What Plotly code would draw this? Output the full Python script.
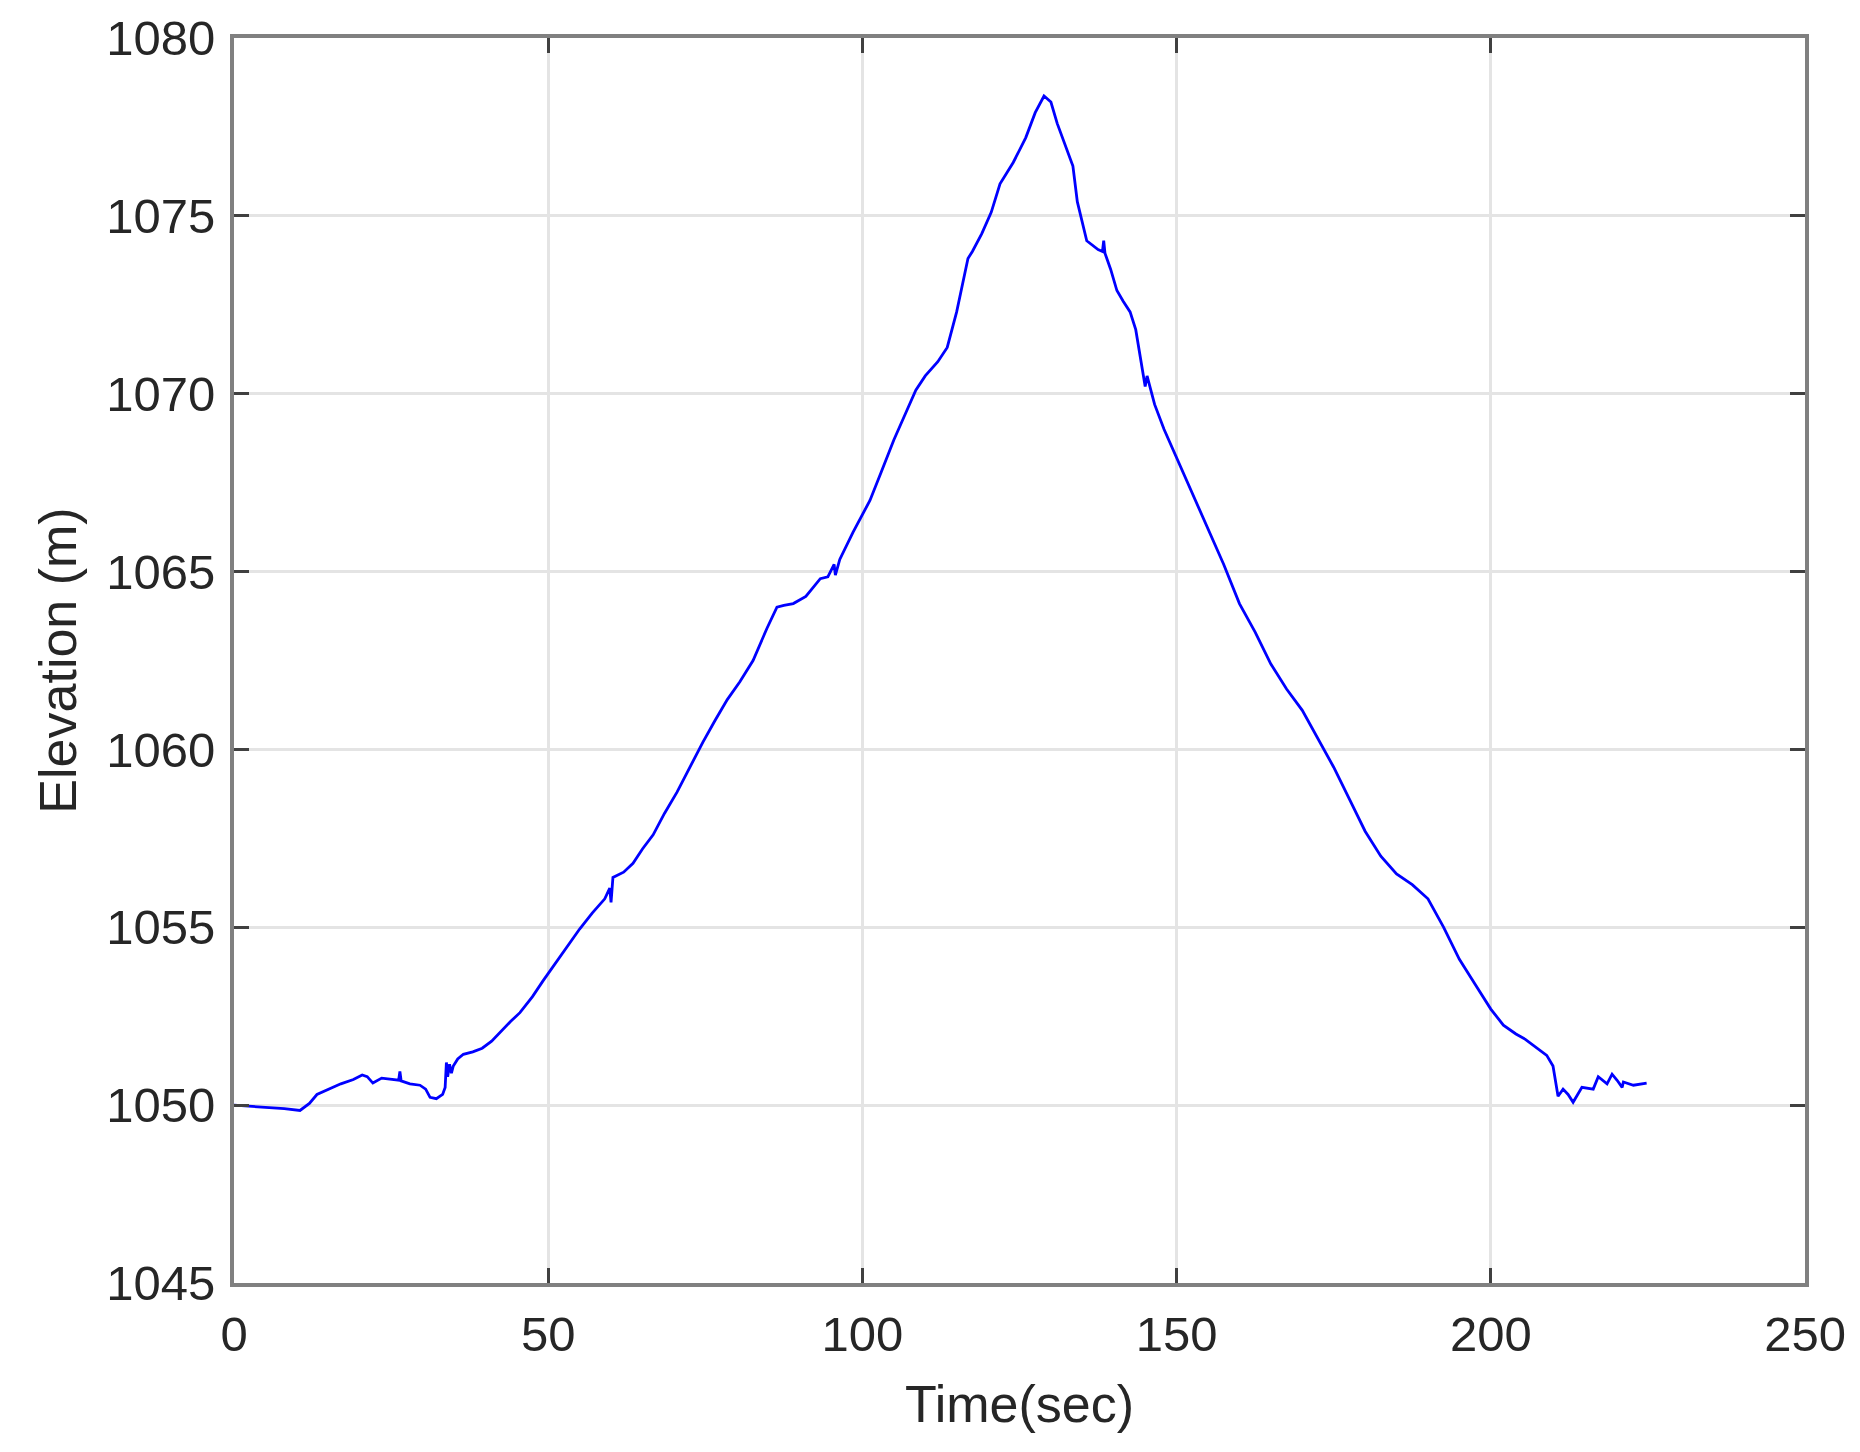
import plotly.graph_objects as go

time_sec = [0, 3, 6, 8, 10.5, 12, 13.2, 15, 17, 19, 20.4, 21.2, 22.1, 23.5, 25, 26.2, 26.4, 26.6, 28, 29.6,
            30.5, 31.2, 32.2, 33.2, 33.6, 33.8, 34.0, 34.3, 34.6, 34.9, 35.6, 36.5, 38, 39.5, 41, 42.3, 44,
            45.5, 47.5, 49.2, 51, 53, 55, 57, 59, 59.8, 60.0, 60.3, 62, 63.5, 65, 66.7, 68.5, 70.5, 72.5,
            74.6, 76.5, 78.5, 80.5, 82.6, 84.8, 86.4, 87.5, 89, 91, 93.3, 94.5, 95.5, 95.7, 96.4, 98.5,
            100, 101.2, 103, 105, 107, 108.5, 110, 112, 113.5, 115, 116.8, 117.5, 119, 120.5, 121.9, 124,
            126, 127.5, 128.9, 130, 131, 132.5, 133.5, 134.2, 135, 135.7, 137.5, 138.2, 138.4, 138.6, 139.5,
            140.5, 141.5, 142.6, 143.5, 144.2, 145, 145.3, 146.5, 148, 150, 152.5, 155, 157.5, 160, 162.5,
            165, 167.5, 170, 172.5, 175, 177.5, 180, 182.5, 185, 187.5, 190, 192.5, 195, 197.5, 200, 202,
            204, 205.5, 207, 208.9, 209.9, 210.3, 210.7, 211.5, 212.3, 213.1, 214.5, 216.3, 217.1, 218.5,
            219.3, 220.1, 220.9, 221.1, 222.7, 224.8]

elevation_m = [1050.0, 1049.97, 1049.93, 1049.9, 1049.85, 1050.05, 1050.3, 1050.45, 1050.6, 1050.72,
               1050.85, 1050.8, 1050.62, 1050.76, 1050.72, 1050.7, 1050.95, 1050.68, 1050.6, 1050.56,
               1050.45, 1050.22, 1050.18, 1050.3, 1050.5, 1051.2, 1050.8, 1051.15, 1050.9, 1051.1,
               1051.3, 1051.43, 1051.5, 1051.6, 1051.8, 1052.05, 1052.35, 1052.6, 1053.05, 1053.5,
               1053.95, 1054.45, 1054.95, 1055.4, 1055.8, 1056.1, 1055.7, 1056.4, 1056.55, 1056.8,
               1057.2, 1057.6, 1058.2, 1058.8, 1059.5, 1060.2, 1060.8, 1061.4, 1061.9, 1062.5, 1063.4,
               1064.0, 1064.05, 1064.1, 1064.3, 1064.8, 1064.85, 1065.2, 1064.9, 1065.34, 1066.1,
               1066.6, 1067.0, 1067.8, 1068.7, 1069.5, 1070.1, 1070.5, 1070.9, 1071.3, 1072.3, 1073.8,
               1074.0, 1074.5, 1075.1, 1075.9, 1076.5, 1077.2, 1077.9, 1078.37, 1078.2, 1077.6, 1076.9,
               1076.4, 1075.4, 1074.8, 1074.3, 1074.05, 1074.0, 1074.3, 1073.95, 1073.5, 1072.9, 1072.6,
               1072.3, 1071.8, 1071.0, 1070.2, 1070.5, 1069.7, 1069.0, 1068.2, 1067.2, 1066.2, 1065.2,
               1064.1, 1063.3, 1062.4, 1061.7, 1061.1, 1060.3, 1059.5, 1058.6, 1057.7, 1057.0, 1056.5,
               1056.2, 1055.8, 1055.0, 1054.1, 1053.4, 1052.7, 1052.25, 1052.0, 1051.85, 1051.65, 1051.4,
               1051.1, 1050.6, 1050.25, 1050.45, 1050.3, 1050.08, 1050.5, 1050.45, 1050.8, 1050.6, 1050.87,
               1050.7, 1050.5, 1050.65, 1050.56, 1050.62]

x_ticks = [0, 50, 100, 150, 200, 250]
y_ticks = [1045, 1050, 1055, 1060, 1065, 1070, 1075, 1080]

FONT = "Liberation Sans, Arial, sans-serif"
TXT = "#262626"

fig = go.Figure()
fig.add_trace(go.Scatter(x=time_sec, y=elevation_m, mode="lines",
                         line=dict(color="#0000ff", width=2.8), showlegend=False))

axis_common = dict(
    showline=True, linecolor="#808080", linewidth=4, mirror="ticks",
    ticks="inside", ticklen=15, tickwidth=3, tickcolor="#404040",
    showgrid=True, gridcolor="#e4e4e4", gridwidth=3, zeroline=False,
    automargin=False,
    tickfont=dict(family=FONT, size=49, color=TXT),
)

fig.update_xaxes(range=[0, 250], tickvals=x_ticks, ticktext=[str(v) for v in x_ticks],
                 ticklabelstandoff=5,
                 title=dict(text="Time(sec)", font=dict(family=FONT, size=52, color=TXT), standoff=27),
                 **axis_common)
fig.update_yaxes(range=[1045, 1080], tickvals=y_ticks, ticktext=[str(v) for v in y_ticks],
                 ticklabelstandoff=5,
                 title=dict(text="Elevation (m)", font=dict(family=FONT, size=52, color=TXT), standoff=14),
                 **axis_common)

fig.update_layout(
    width=1860, height=1452,
    margin=dict(l=226, r=63, t=30, b=177),
    paper_bgcolor="white", plot_bgcolor="white",
)

fig.write_html("out.html")
